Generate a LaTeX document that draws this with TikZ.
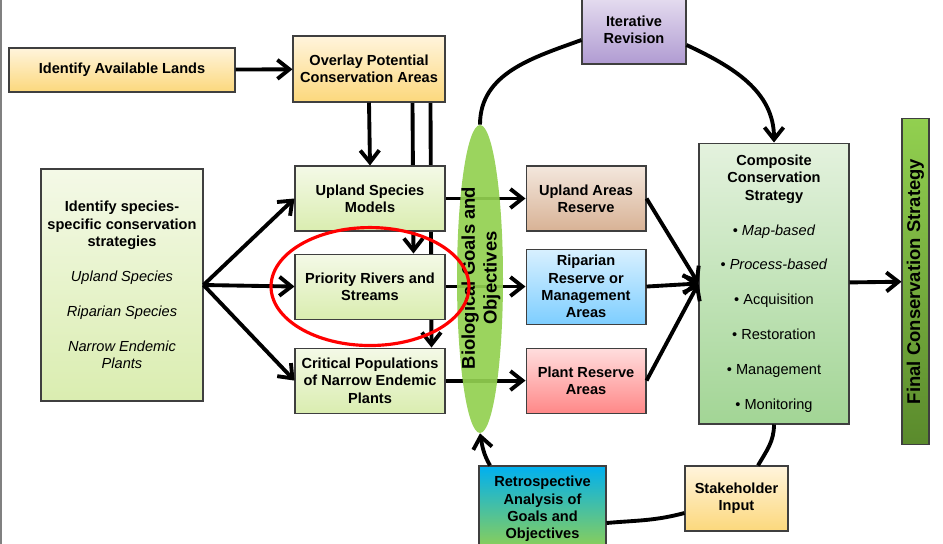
\documentclass[tikz,border=0pt]{standalone}
\usepackage{fontspec}
\setmainfont{Liberation Sans}
\usepackage{tikz}
\usetikzlibrary{positioning}
\usetikzlibrary{arrows.meta, shapes.geometric, backgrounds}
\usepackage{xcolor}

\definecolor{boxline}{HTML}{3F3F3F}
\definecolor{tanTop}{HTML}{FFF4DC}
\definecolor{tanBot}{HTML}{FCD87C}
\definecolor{limeTop}{HTML}{F4F9E7}
\definecolor{limeBot}{HTML}{DAEDB0}
\definecolor{lilacTop}{HTML}{E6DEF0}
\definecolor{lilacBot}{HTML}{B09BD2}
\definecolor{mintTop}{HTML}{E4F2DE}
\definecolor{mintBot}{HTML}{A2D595}
\definecolor{soilTop}{HTML}{F3E7DD}
\definecolor{soilBot}{HTML}{D8B295}
\definecolor{skyTop}{HTML}{D8F0FF}
\definecolor{skyBot}{HTML}{7ECEFF}
\definecolor{roseTop}{HTML}{FFDEDE}
\definecolor{roseBot}{HTML}{FF8888}
\definecolor{leaf}{HTML}{92D050}
\definecolor{leafDark}{HTML}{5A8A2C}
\definecolor{retroTop}{HTML}{00B0F0}

\begin{document}
\begin{tikzpicture}[x=0.02cm, y=-0.02cm,
  main/.style = {draw=boxline, line width=0.6pt, align=center, inner sep=1pt,
    font=\fontsize{8.3}{9.9}\selectfont\bfseries},
  tan/.style = {main, top color=tanTop, bottom color=tanBot},
  lime/.style = {main, top color=limeTop, bottom color=limeBot},
  big/.style = {align=center, inner sep=0pt, font=\fontsize{10.5}{12.4}\selectfont\bfseries},
  link/.style = {line width=2.2pt, -{Straight Barb[length=2.4mm,width=3.8mm]}},
  loop/.style = {line width=2.2pt}]
\useasboundingbox (0,0) rectangle (943,544);
\draw[gray, line width=0.8pt] (1,0) -- (1,544);

\node[tan, minimum width=4.52cm, minimum height=0.88cm] (1) at (122,70) {Identify Available Lands};
\node[tan, minimum width=3.04cm, minimum height=1.32cm] (2) at (369,69) {Overlay Potential\\Conservation Areas};
\node[main, top color=lilacTop, bottom color=lilacBot, minimum width=2.08cm, minimum height=1.36cm] (3) at (634,30) {Iterative\\Revision};
\node[lime, minimum width=3.24cm, minimum height=4.64cm] (4) at (122,285) {Identify species-\\specific conservation\\strategies\\[9.9pt]
  \textmd{\textit{Upland Species}}\\[9.9pt]
  \textmd{\textit{Riparian Species}}\\[9.9pt]
  \textmd{\textit{Narrow Endemic}}\\\textmd{\textit{Plants}}};
\node[lime, minimum width=3cm, minimum height=1.3cm] (5) at (370,198.5) {Upland Species\\Models};
\node[lime, minimum width=3cm, minimum height=1.3cm] (6) [below=0.44cm of 5] {Priority Rivers and\\Streams};
\node[lime, minimum width=3cm, minimum height=1.3cm] (7) [below=0.56cm of 6] {Critical Populations\\of Narrow Endemic\\Plants};
\node[main, top color=soilTop, bottom color=soilBot, minimum width=2.4cm, minimum height=1.3cm] (9) [right=1.6cm of 5] {Upland Areas\\Reserve};
\node[main, top color=skyTop, bottom color=skyBot, minimum width=2.4cm, minimum height=1.5cm] (10) [right=1.6cm of 6] {Riparian\\Reserve or\\Management\\Areas};
\node[main, top color=roseTop, bottom color=roseBot, minimum width=2.4cm, minimum height=1.3cm] (11) [right=1.6cm of 7] {Plant Reserve\\Areas};
\node[main, top color=mintTop, bottom color=mintBot, minimum width=3cm, minimum height=5.62cm] (12) at (774,283.5) {Composite\\Conservation\\Strategy\\[9.9pt]
  \textmd{• \textit{Map-based}}\\[9.9pt]
  \textmd{• \textit{Process-based}}\\[9.9pt]
  \textmd{• Acquisition}\\[9.9pt]
  \textmd{• Restoration}\\[9.9pt]
  \textmd{• Management}\\[9.9pt]
  \textmd{• Monitoring}};
\node[main, top color=leaf, bottom color=leafDark, minimum width=0.54cm, minimum height=6.54cm] (13) at (915.5,281.5) {};
\node[big, rotate=90] (13t) at (13) {Final Conservation Strategy};
\node[tan, minimum width=2.06cm, minimum height=1.3cm] (14) at (736.5,498.5) {Stakeholder\\Input};
\node[main, top color=retroTop, middle color=retroTop!85!leaf, bottom color=leaf, minimum width=2.54cm, minimum height=1.72cm] (15) at (542.5,509) {Retrospective\\Analysis of\\Goals and\\Objectives};

% lines running behind the boxes
\begin{pgfonlayer}{background}
\path ([xshift=0.87cm]2.south) edge [link] ([xshift=0.87cm]6.north);
\path ([xshift=1.23cm]2.south) edge [link] ([xshift=1.23cm]7.north);
\path (5.east) edge [link] (9.west);
\path (6.east) edge [link] (10.west);
\path (7.east) edge [link] (11.west);
\end{pgfonlayer}

\node[ellipse, fill=leaf, fill opacity=0.92, inner sep=0pt, minimum width=0.92cm, minimum height=6.16cm] (8) at (480,279) {};
\node[big, rotate=90] (8t) at (481,278) {Biological Goals and\\Objectives};

\path (1) edge [link] (2);
\path (2.south) edge [link] (5.north);
\path (4.east) edge [link] (5.west);
\path (4.east) edge [link] (6.west);
\path (4.east) edge [link] (7.west);
\path (9.east) edge [link] (12.west);
\path (10.east) edge [link] (12.west);
\path (11.east) edge [link] (12.west);
\path (12) edge [link] (13);

% revision loop
\draw[loop] (8.north) to [out=90, in=200] ([yshift=-0.2cm]3.west);
\draw[link] ([yshift=-0.3cm]3.east) to [out=-25, in=90] (12.north);
\draw[loop] (12.south) to [out=-90, in=60] ([xshift=0.43cm]14.north);
\draw[loop] ([yshift=-0.29cm]14.west) to [out=195, in=5] ([yshift=-0.28cm]15.east);
\draw[link] ([xshift=-1.05cm]15.north) to [out=120, in=-80] (8.south);

\draw[red, line width=1.8pt] (6.center) ellipse [x radius=1.98cm, y radius=1.18cm];
\end{tikzpicture}
\end{document}
